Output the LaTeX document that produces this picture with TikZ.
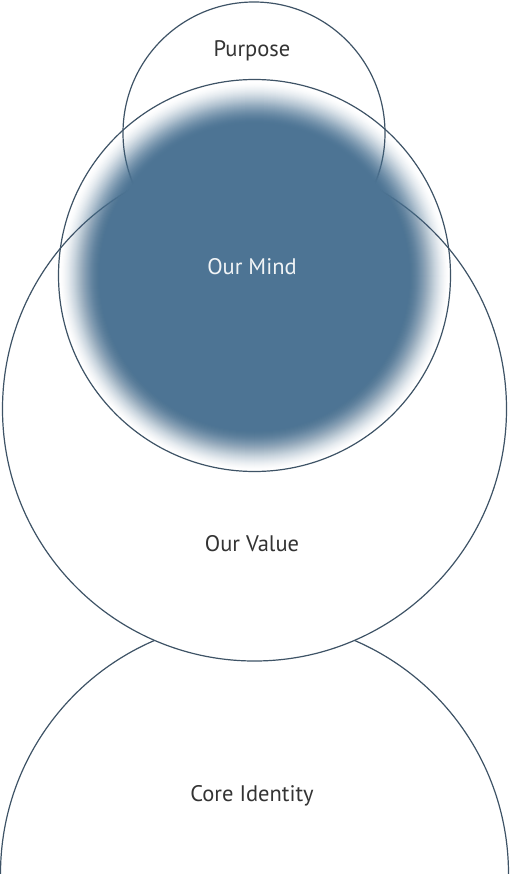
\documentclass[tikz,border=0pt]{standalone}
\usepackage{fontspec}
\setmainfont{PT Sans}
\definecolor{linec}{HTML}{3E5366}
\definecolor{mindc}{HTML}{4D7494}
\definecolor{textc}{HTML}{333333}
\tikzset{
  ring/.style={draw=linec, line width=1.2pt},
  lbl/.style={font=\fontsize{22.5}{26}\selectfont, text=textc, anchor=base, inner sep=0pt},
}
\begin{document}
\begin{tikzpicture}[x=1pt,y=-1pt]
\useasboundingbox (0,0) rectangle (510,874);
% Core Identity
\node[circle, ring, minimum size=508pt, inner sep=0pt] (core) at (254.5,874) {};
% Our Value (covers Core Identity)
\node[circle, ring, fill=white, minimum size=504pt, inner sep=0pt] (value) at (254.5,409) {};
% Purpose
\node[circle, ring, minimum size=262pt, inner sep=0pt] (purpose) at (254,133) {};
% Our Mind outer ring
\node[circle, ring, minimum size=392pt, inner sep=0pt] (mindring) at (254.5,275.5) {};
% blurred disc: nested disks whose opacities build a smooth edge
\coordinate (mc) at (254.5,276);
\foreach \k in {1,...,43}{
  \pgfmathsetmacro\ta{\k/44}
  \pgfmathsetmacro\tb{(\k-1)/44}
  \pgfmathsetmacro\pa{3*\ta*\ta-2*\ta*\ta*\ta}
  \pgfmathsetmacro\pb{3*\tb*\tb-2*\tb*\tb*\tb}
  \pgfmathsetmacro\al{1-(1-\pa)/(1-\pb)}
  \pgfmathsetmacro\rr{196-\k}
  \fill[mindc, fill opacity=\al] (mc) circle[radius=\rr pt];
}
\fill[mindc] (mc) circle[radius=152.5pt];
% labels
\node[lbl] (tpurpose) at (252,57) {Purpose};
\node[lbl, text=white!92!mindc] (tmind) at (252,275) {Our Mind};
\node[lbl] (tvalue) at (252,551) {Our Value};
\node[lbl] (tcore) at (252,801) {Core Identity};
\end{tikzpicture}
\end{document}
